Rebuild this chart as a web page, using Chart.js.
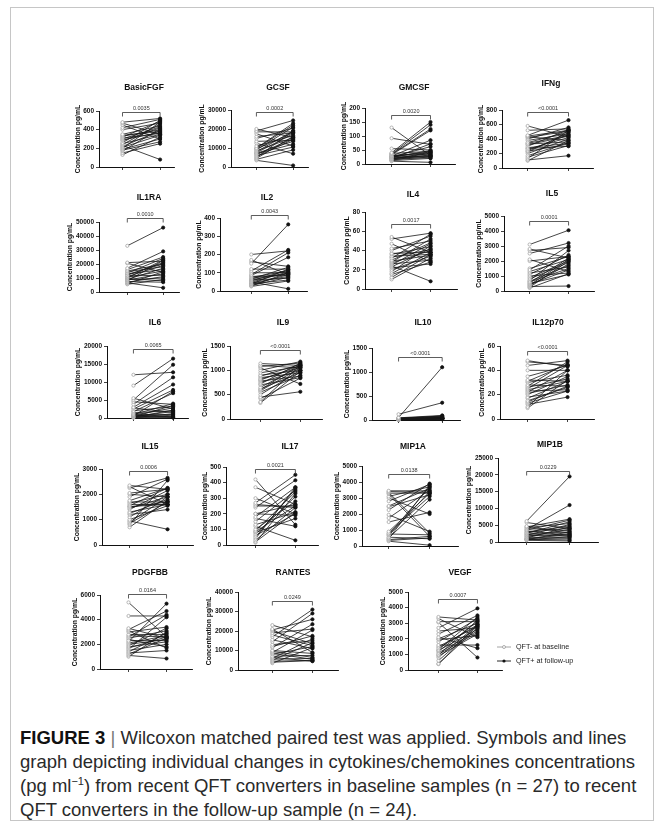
<!DOCTYPE html>
<html>
<head>
<meta charset="utf-8">
<title>Figure 3</title>
<script src="https://cdn.jsdelivr.net/npm/chart.js@4.4.1/dist/chart.umd.min.js"></script>
<style>
  html, body { margin: 0; padding: 0; background: #fff; }
  body { width: 665px; height: 829px; position: relative; overflow: hidden;
         font-family: "Liberation Sans", Arial, sans-serif; color: #111; }
  .frame { position: absolute; left: 10px; top: 7px; width: 644px; height: 814px;
           border: 1px solid #c6c6c6; box-sizing: border-box; }
  .ptitle { position: absolute; font-weight: bold; font-size: 8.5px; white-space: nowrap;
            transform: translate(-50%, -50%); }
  .legend { position: absolute; font-size: 7.2px; line-height: 14px; color: #222; }
  .legend div { display: flex; align-items: center; white-space: nowrap; }
  .legend svg { margin-right: 5px; }
  .caption { position: absolute; left: 20px; white-space: nowrap; font-size: 18.5px;
             font-family: "Liberation Sans", Arial, sans-serif; color: #2a2a2a; }
  .caption b { color: #111; }
  .caption .bar { color: #777; }
  sup { font-size: 11px; line-height: 0; }
</style>
</head>
<body>
<div class="frame"></div>

<script>
// ── Data ──────────────────────────────────────────────────────
const panelNames = ["BasicFGF", "GCSF", "GMCSF", "IFNg",
                    "IL1RA", "IL2", "IL4", "IL5",
                    "IL6", "IL9", "IL10", "IL12p70",
                    "IL15", "IL17", "MIP1A", "MIP1B",
                    "PDGFBB", "RANTES", "VEGF"];
const pValues = ["0.0035", "0.0002", "0.0020", "<0.0001",
                 "0.0010", "0.0043", "0.0017", "0.0001",
                 "0.0065", "<0.0001", "<0.0001", "<0.0001",
                 "0.0006", "0.0021", "0.0138", "0.0229",
                 "0.0164", "0.0249", "0.0007"];
const yMax  = [600, 30000, 200, 800, 50000, 400, 80, 5000, 20000, 1500, 1500, 60,
               3000, 500, 5000, 25000, 6000, 40000, 5000];
const yStep = [200, 10000, 50, 200, 10000, 100, 20, 1000, 5000, 500, 500, 20,
               1000, 100, 1000, 5000, 2000, 10000, 1000];

const basicFgfBase = [480, 470, 450, 420, 400, 350, 340, 330, 320, 310, 300, 290, 280, 260, 250, 240, 230, 220, 210, 200, 190, 180, 170, 150, 130];
const basicFgfFu   = [520, 350, 300, 510, 470, 440, 380, 400, 490, 360, 430, 370, 420, 500, 350, 460, 80, 390, 340, 480, 300, 270, 410, 250, 320];
const gcsfBase = [20000, 19000, 18500, 17500, 16000, 15000, 13500, 12500, 11000, 10000, 9500, 9000, 8500, 8000, 7500, 7000, 6500, 6000, 5500, 5000, 4500, 4000, 3500, 9800, 7200];
const gcsfFu   = [15500, 24500, 18500, 11000, 18000, 20500, 14000, 7000, 16500, 23000, 18000, 21000, 15500, 19000, 17500, 12000, 15000, 10500, 14500, 19000, 16000, 9000, 800, 22000, 13500];
const gmcsfBase = [130, 92, 55, 40, 38, 36, 35, 33, 30, 30, 28, 27, 25, 24, 22, 20, 20, 18, 17, 15, 14, 12, 10, 26, 21];
const gmcsfFu   = [30, 70, 50, 150, 45, 140, 125, 120, 40, 35, 85, 28, 62, 48, 30, 72, 22, 38, 42, 25, 33, 20, 6, 44, 27];
const ifngBase = [580, 520, 450, 440, 430, 420, 400, 380, 350, 330, 320, 300, 280, 260, 240, 230, 220, 200, 170, 150, 130, 110, 100, 340, 270];
const ifngFu   = [430, 540, 660, 520, 380, 510, 560, 470, 500, 360, 440, 530, 340, 420, 460, 330, 490, 400, 350, 310, 520, 170, 380, 450, 300];
const il1raBase = [33000, 21000, 20500, 17000, 16000, 15000, 14500, 13500, 13000, 12000, 11500, 11000, 10500, 10000, 9500, 9000, 8500, 8000, 7500, 7000, 6500, 6000, 5500, 12500, 8800];
const il1raFu   = [46000, 22000, 14000, 29000, 25000, 20000, 18000, 24000, 16000, 21000, 12000, 19000, 15000, 23000, 8000, 17000, 13000, 22500, 7000, 11000, 3000, 14500, 9000, 20000, 10000];
const il2Base = [200, 170, 150, 120, 110, 100, 90, 85, 80, 75, 70, 65, 60, 55, 50, 48, 45, 40, 38, 35, 30, 28, 25, 160, 62];
const il2Fu   = [220, 90, 365, 120, 225, 100, 210, 185, 85, 110, 95, 130, 70, 115, 12, 105, 80, 60, 120, 90, 75, 100, 55, 135, 95];
const il4Base = [54, 52, 47, 42, 40, 37, 36, 34, 32, 30, 29, 28, 27, 26, 25, 24, 23, 22, 20, 18, 16, 15, 12, 10, 33];
const il4Fu   = [38, 58, 28, 50, 55, 38, 44, 36, 57, 48, 35, 52, 40, 30, 47, 8, 42, 26, 34, 45, 38, 28, 36, 32, 41];
const il5Base = [3100, 2800, 2700, 2500, 2100, 2000, 1400, 1300, 1200, 1100, 1000, 900, 800, 700, 600, 550, 500, 450, 400, 350, 300, 250, 200, 1500, 650];
const il5Fu   = [4050, 2200, 2900, 3200, 1300, 2300, 3000, 2100, 1600, 2400, 1200, 2000, 1900, 2700, 1500, 2200, 1100, 1400, 2100, 1800, 330, 2000, 1150, 2300, 1700];
const il6Base = [12000, 9000, 5500, 5000, 4500, 3800, 3000, 2800, 2500, 2000, 1800, 1500, 1200, 1000, 900, 800, 700, 600, 500, 400, 300, 250, 200, 150, 100];
const il6Fu   = [12700, 16500, 2500, 14800, 3800, 11300, 9300, 1500, 7800, 3200, 6900, 2000, 600, 4000, 300, 2800, 1000, 7400, 200, 1800, 3500, 500, 2200, 100, 1200];
const il9Base = [1140, 1100, 1080, 1050, 1000, 950, 900, 880, 850, 820, 800, 780, 750, 720, 700, 650, 620, 600, 580, 550, 500, 450, 420, 350, 330];
const il9Fu   = [1100, 1050, 1150, 720, 1180, 1080, 1000, 1120, 950, 1060, 1100, 880, 1000, 1150, 850, 1080, 950, 1120, 1050, 900, 1000, 560, 840, 1100, 980];
const il10Base = [120, 50, 45, 40, 35, 30, 28, 25, 22, 20, 18, 16, 15, 14, 12, 10, 9, 8, 7, 6, 5, 4, 3, 2, 30];
const il10Fu   = [360, 1100, 95, 80, 70, 60, 55, 50, 45, 40, 38, 35, 32, 30, 28, 25, 22, 20, 18, 15, 60, 40, 30, 25, 85];
const il12Base = [48, 47, 44, 40, 35, 32, 31, 30, 28, 27, 26, 25, 24, 23, 22, 21, 20, 18, 17, 15, 14, 13, 12, 10, 9];
const il12Fu   = [43, 44, 48, 40, 44, 31, 45, 36, 27, 47, 33, 44, 31, 24, 40, 28, 35, 23, 31, 26, 27, 23, 18, 40, 32];
const il15Base = [2350, 2300, 2250, 2050, 2000, 1900, 1750, 1700, 1650, 1600, 1550, 1500, 1450, 1400, 1300, 1250, 1200, 1100, 1000, 950, 900, 850, 800, 700, 1520];
const il15Fu   = [2200, 1600, 2650, 2200, 1900, 2600, 2250, 1700, 2000, 1600, 2250, 1700, 1900, 2150, 1600, 1800, 1400, 2000, 1550, 620, 1900, 1700, 2550, 1750, 1600];
const il17Base = [420, 370, 300, 270, 260, 250, 240, 200, 200, 180, 170, 150, 130, 120, 100, 90, 85, 80, 70, 60, 50, 40, 30, 20, 15];
const il17Fu   = [130, 260, 200, 450, 240, 250, 415, 260, 190, 370, 120, 350, 210, 30, 280, 340, 250, 170, 310, 200, 360, 370, 240, 210, 330];
const mip1aBase = [3450, 3400, 3350, 3300, 3250, 3100, 3000, 2800, 2500, 2450, 2250, 1950, 1750, 1500, 900, 800, 750, 700, 650, 550, 500, 450, 400, 350, 300];
const mip1aFu   = [3450, 3350, 800, 3300, 600, 3700, 2000, 3850, 3600, 3200, 3900, 900, 3500, 2100, 3300, 3100, 700, 3700, 3400, 450, 2900, 3800, 600, 500, 50];
const mip1bBase = [6200, 4700, 4500, 4300, 4000, 3700, 3500, 3300, 3000, 2800, 2600, 2400, 2200, 2000, 1800, 1600, 1400, 1200, 1000, 900, 800, 700, 600, 500, 5800];
const mip1bFu   = [19500, 2600, 6800, 5500, 3400, 11000, 6500, 2000, 4800, 4200, 6000, 3000, 1800, 5200, 2400, 3800, 1400, 4500, 2200, 1000, 600, 3000, 1600, 300, 4000];
const pdgfbbBase = [5400, 4300, 3300, 3200, 3100, 3000, 2800, 2700, 2600, 2500, 2300, 2200, 2100, 2000, 1900, 1800, 1700, 1600, 1500, 1400, 1300, 1200, 1100, 1000, 2400];
const pdgfbbFu   = [2600, 4300, 2500, 4700, 1700, 3400, 2800, 2600, 4400, 3100, 2300, 5300, 2700, 2400, 3300, 2200, 2600, 4200, 2000, 2900, 1500, 2500, 850, 3000, 1800];
const rantesBase = [23000, 21000, 20500, 20000, 19000, 18000, 17000, 15500, 14500, 13000, 12000, 11500, 10000, 9500, 9000, 8500, 8000, 7000, 6500, 6000, 5500, 5000, 4500, 4000, 3500];
const rantesFu   = [17000, 9000, 26000, 13500, 21000, 12500, 31000, 11000, 29000, 15000, 17500, 23500, 8500, 6500, 20500, 5500, 12000, 7500, 4500, 16000, 6000, 14000, 5000, 4800, 11500];
const vegfBase = [3400, 3300, 3100, 3050, 2700, 2500, 2300, 2100, 2000, 1950, 1800, 1600, 1500, 1400, 1300, 1250, 1200, 1100, 1000, 950, 900, 800, 600, 400, 380];
const vegfFu   = [3200, 2100, 3100, 800, 3950, 2700, 3500, 1400, 3000, 2200, 3300, 1600, 2800, 2900, 3400, 2600, 3100, 2500, 2400, 3200, 2300, 2900, 2800, 2700, 2900];

const baselines = [basicFgfBase, gcsfBase, gmcsfBase, ifngBase, il1raBase, il2Base, il4Base, il5Base,
                   il6Base, il9Base, il10Base, il12Base, il15Base, il17Base, mip1aBase, mip1bBase,
                   pdgfbbBase, rantesBase, vegfBase];
const followUps = [basicFgfFu, gcsfFu, gmcsfFu, ifngFu, il1raFu, il2Fu, il4Fu, il5Fu,
                   il6Fu, il9Fu, il10Fu, il12Fu, il15Fu, il17Fu, mip1aFu, mip1bFu,
                   pdgfbbFu, rantesFu, vegfFu];

// ── Panel placement (page px): y-axis x, top tick y, zero y, x-axis end,
//    category x's, bracket offset, title centre ───────────────
const layout = [
  { ax: 99,  top: 111, zero: 167, end: 179, c0: 124, c1: 164, dy: 1,  tx: 144, ty: 87 },
  { ax: 231, top: 110, zero: 167, end: 313, c0: 258, c1: 297, dy: 2,  tx: 278, ty: 87 },
  { ax: 365, top: 108, zero: 164, end: 460, c0: 393, c1: 434, dy: 7,  tx: 414, ty: 87 },
  { ax: 502, top: 110, zero: 168, end: 598, c0: 529, c1: 572, dy: 2,  tx: 551, ty: 83 },
  { ax: 99,  top: 222, zero: 292, end: 184, c0: 129, c1: 167, dy: -4, tx: 149, ty: 197 },
  { ax: 220, top: 218, zero: 291, end: 312, c0: 253, c1: 292, dy: -3, tx: 267, ty: 197 },
  { ax: 365, top: 212, zero: 289, end: 462, c0: 393, c1: 434, dy: 12, tx: 413, ty: 194 },
  { ax: 504, top: 216, zero: 291, end: 599, c0: 531, c1: 572, dy: 5,  tx: 552, ty: 193 },
  { ax: 107, top: 346, zero: 418, end: 193, c0: 135, c1: 177, dy: 3,  tx: 155, ty: 322 },
  { ax: 230, top: 346, zero: 419, end: 327, c0: 262, c1: 304, dy: 4,  tx: 283, ty: 322 },
  { ax: 372, top: 348, zero: 420, end: 465, c0: 400, c1: 446, dy: 9,  tx: 423, ty: 322 },
  { ax: 500, top: 346, zero: 419, end: 599, c0: 529, c1: 571, dy: 5,  tx: 548, ty: 322 },
  { ax: 102, top: 469, zero: 545, end: 198, c0: 131, c1: 171, dy: 2,  tx: 150, ty: 446 },
  { ax: 226, top: 467, zero: 545, end: 323, c0: 257, c1: 299, dy: 2,  tx: 290, ty: 446 },
  { ax: 362, top: 466, zero: 546, end: 463, c0: 390, c1: 433, dy: 8,  tx: 413, ty: 446 },
  { ax: 498, top: 458, zero: 542, end: 603, c0: 528, c1: 573, dy: 13, tx: 550, ty: 444 },
  { ax: 100, top: 595, zero: 669, end: 197, c0: 130, c1: 170, dy: -1, tx: 150, ty: 572 },
  { ax: 238, top: 592, zero: 670, end: 343, c0: 274, c1: 316, dy: 9,  tx: 293, ty: 572 },
  { ax: 408, top: 592, zero: 670, end: 507, c0: 440, c1: 481, dy: 7,  tx: 460, ty: 572 },
];

(() => {
  "use strict";

  Chart.defaults.font.family = "'Liberation Sans', Arial, sans-serif";
  Chart.defaults.color = "#111";

  const TICK_FONT = { size: 6.5, weight: "bold" };
  const PAD_TOP = 24;   // room above the plot for bracket + p value
  const X_AXIS_H = 8;

  const measure = document.createElement("canvas").getContext("2d");
  measure.font = "bold 6.5px 'Liberation Sans'";

  // bracket with p value over the two columns
  const bracketPlugin = {
    id: "bracket",
    afterDraw(chart, args, opts) {
      const { ctx, chartArea } = chart;
      const xs = chart.scales.x;
      const x0 = xs.getPixelForValue(0), x1 = xs.getPixelForValue(1);
      const y = Math.round(chartArea.top + opts.dy) + 0.5;
      ctx.save();
      ctx.strokeStyle = "#333";
      ctx.lineWidth = 0.8;
      ctx.beginPath();
      ctx.moveTo(x0, y + 4); ctx.lineTo(x0, y); ctx.lineTo(x1, y); ctx.lineTo(x1, y + 4);
      ctx.stroke();
      ctx.fillStyle = "#333";
      ctx.font = "5.5px 'Liberation Sans', Arial, sans-serif";
      ctx.textAlign = "center";
      ctx.textBaseline = "alphabetic";
      ctx.fillText(opts.text, (x0 + x1) / 2, y - 3);
      ctx.restore();
    }
  };

  panelNames.forEach((name, i) => {
    const L = layout[i];
    const base = baselines[i], fu = followUps[i];

    const lw = measure.measureText(String(yMax[i])).width;
    const yW = Math.ceil(lw + 3 + 2 + 9);
    const W = yW + (L.end - L.ax);
    const H = PAD_TOP + (L.zero - L.top) + X_AXIS_H;

    const cv = document.createElement("canvas");
    cv.width = W; cv.height = H;
    cv.style.cssText = `position:absolute;left:${L.ax - yW}px;top:${L.top - PAD_TOP}px;width:${W}px;height:${H}px`;
    document.body.appendChild(cv);

    const title = document.createElement("div");
    title.className = "ptitle";
    title.textContent = name;
    title.style.left = L.tx + "px";
    title.style.top = L.ty + "px";
    document.body.appendChild(title);

    const unit = L.c1 - L.c0;
    const xMin = -(L.c0 - L.ax) / unit;
    const xMax = 1 + (L.end - L.c1) / unit;

    const datasets = base.map((b, k) => ({
      data: [{ x: 0, y: b }, { x: 1, y: fu[k] }],
      borderColor: "#161616",
      borderWidth: 0.8,
      pointRadius: 1.6,
      pointBorderWidth: 0.8,
      pointBackgroundColor: ["#ffffff", "#111111"],
      pointBorderColor: ["#a5a5a5", "#111111"],
      clip: false,
    }));

    new Chart(cv, {
      type: "line",
      data: { datasets },
      options: {
        responsive: false,
        maintainAspectRatio: false,
        animation: false,
        events: [],
        layout: { padding: { top: PAD_TOP, left: 0, right: 0, bottom: 0 } },
        plugins: {
          legend: { display: false },
          tooltip: { enabled: false },
          bracket: { dy: L.dy, text: pValues[i] },
        },
        scales: {
          x: {
            type: "linear",
            min: xMin,
            max: xMax,
            afterBuildTicks: s => { s.ticks = [{ value: 0 }, { value: 1 }]; },
            afterFit: s => { s.height = X_AXIS_H; },
            ticks: { display: false },
            grid: { drawOnChartArea: false, drawTicks: true, tickLength: 3, color: "#111", lineWidth: 0.8 },
            border: { color: "#111", width: 1 },
          },
          y: {
            min: 0,
            max: yMax[i],
            afterFit: s => { s.width = yW; },
            ticks: {
              stepSize: yStep[i],
              padding: 2,
              font: TICK_FONT,
              color: "#111",
              callback: v => String(v),
            },
            grid: { drawOnChartArea: false, drawTicks: true, tickLength: 3, color: "#111", lineWidth: 0.8 },
            border: { color: "#111", width: 1 },
            title: {
              display: true,
              text: "Concentration pg/mL",
              font: { size: 6.8, weight: "bold" },
              color: "#111",
              padding: { top: 0, bottom: 1 },
            },
          },
        },
      },
      plugins: [bracketPlugin],
    });
  });
})();
</script>

<div class="legend" style="left:497px; top:640px;">
  <div><svg width="14" height="6"><line x1="0" y1="3" x2="14" y2="3" stroke="#9a9a9a" stroke-width="0.9"/><circle cx="7" cy="3" r="1.5" fill="#fff" stroke="#9a9a9a" stroke-width="0.8"/></svg><span>QFT- at baseline</span></div>
  <div><svg width="14" height="6"><line x1="0" y1="3" x2="14" y2="3" stroke="#111" stroke-width="0.9"/><circle cx="7" cy="3" r="1.6" fill="#111"/></svg><span>QFT+ at follow-up</span></div>
</div>

<div class="caption" style="top:727px;"><b>FIGURE 3</b> <span class="bar">|</span> Wilcoxon matched paired test was applied. Symbols and lines</div>
<div class="caption" style="top:751px;">graph depicting individual changes in cytokines/chemokines concentrations</div>
<div class="caption" style="top:775px;">(pg ml<sup>−1</sup>) from recent QFT converters in baseline samples (n = 27) to recent</div>
<div class="caption" style="top:799px;">QFT converters in the follow-up sample (n = 24).</div>
</body>
</html>
